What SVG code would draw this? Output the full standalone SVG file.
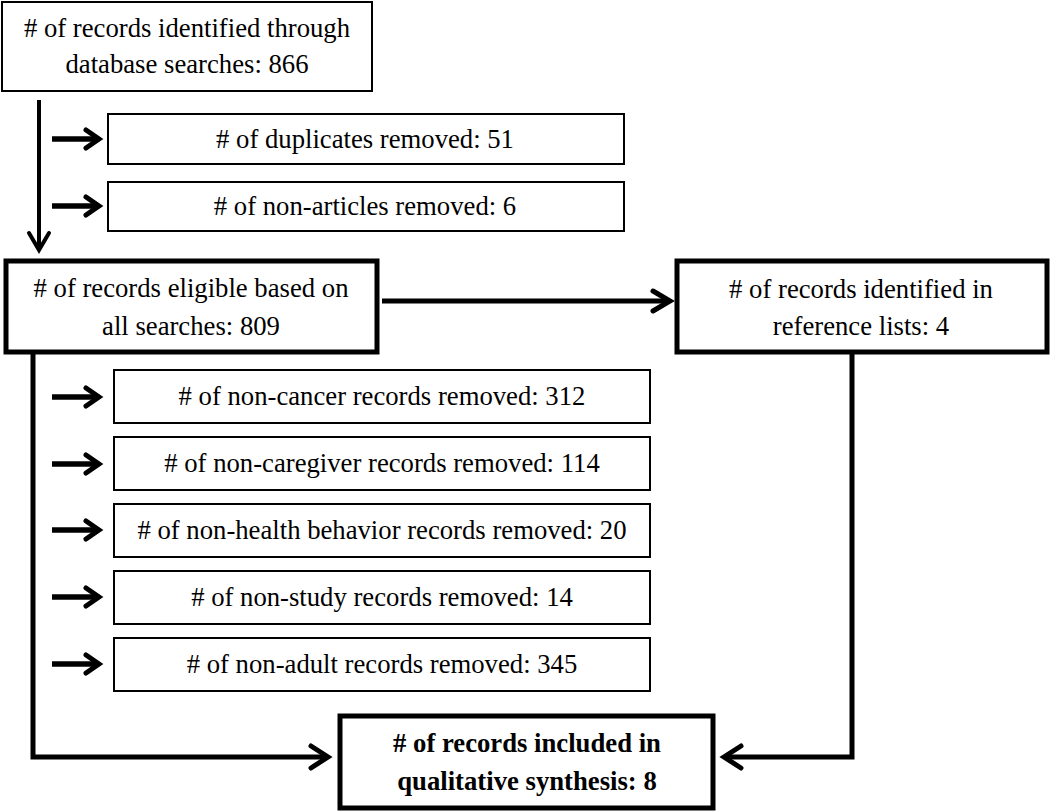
<svg xmlns="http://www.w3.org/2000/svg" width="1050" height="811" viewBox="0 0 1050 811">
<defs>
<style>
.thin{fill:#fff;stroke:#000;stroke-width:2}
.thick{fill:#fff;stroke:#000;stroke-width:5}
.t{font-family:'Liberation Serif',serif;font-size:26.7px;fill:#000;text-anchor:middle}
.b{font-weight:bold}
.ln{fill:none;stroke:#000;stroke-width:5}
.sa{fill:none;stroke:#000;stroke-width:5.5}
.hd{fill:none;stroke:#000;stroke-width:5;stroke-linecap:round;stroke-linejoin:miter}
.v{fill:none;stroke:#000;stroke-width:4}
</style>
</defs>
<rect width="1050" height="811" fill="#fff"/>
<g id="connectors">
<line class="v" x1="39" y1="100" x2="39" y2="250"/>
<polyline class="hd" style="stroke-width:4" points="29,233 39,250 49,233"/>
<line class="sa" x1="52" y1="139" x2="98" y2="139"/>
<polyline class="hd" points="86,130 99,139 86,148"/>
<line class="sa" x1="52" y1="206" x2="98" y2="206"/>
<polyline class="hd" points="86,197 99,206 86,215"/>
<line class="ln" x1="382" y1="301" x2="670" y2="301"/>
<polyline class="hd" points="653,291 670,301 653,311"/>
<line class="sa" x1="52" y1="397" x2="98" y2="397"/>
<polyline class="hd" points="86,388 99,397 86,406"/>
<line class="sa" x1="52" y1="464" x2="98" y2="464"/>
<polyline class="hd" points="86,455 99,464 86,473"/>
<line class="sa" x1="52" y1="530" x2="98" y2="530"/>
<polyline class="hd" points="86,521 99,530 86,539"/>
<line class="sa" x1="52" y1="597" x2="98" y2="597"/>
<polyline class="hd" points="86,588 99,597 86,606"/>
<line class="sa" x1="52" y1="664" x2="98" y2="664"/>
<polyline class="hd" points="86,655 99,664 86,673"/>
<polyline class="ln" points="33,352 33,757 328,757"/>
<polyline class="hd" points="311,746 328,757 311,768"/>
<polyline class="ln" points="852,352 852,757 724,757"/>
<polyline class="hd" points="741,746 724,757 741,768"/>
</g>
<g id="n1">
<rect class="thin" x="2" y="2" width="370" height="89"/>
<text class="t" x="187" y="37"># of records identified through</text>
<text class="t" x="187" y="73">database searches: 866</text>
</g>
<g id="n2">
<rect class="thin" x="108" y="114" width="516" height="50"/>
<text class="t" x="365" y="148"># of duplicates removed: 51</text>
</g>
<g id="n3">
<rect class="thin" x="108" y="182" width="516" height="49"/>
<text class="t" x="365" y="215"># of non-articles removed: 6</text>
</g>
<g id="n4">
<rect class="thick" x="6" y="261" width="371" height="91"/>
<text class="t" x="191" y="297"># of records eligible based on</text>
<text class="t" x="191" y="335">all searches: 809</text>
</g>
<g id="n5">
<rect class="thick" x="677" y="261" width="370" height="91"/>
<text class="t" x="861" y="298"># of records identified in</text>
<text class="t" x="861" y="335">reference lists: 4</text>
</g>
<g id="n6">
<rect class="thin" x="114" y="370" width="536" height="53"/>
<text class="t" x="382" y="405"># of non-cancer records removed: 312</text>
</g>
<g id="n7">
<rect class="thin" x="114" y="437" width="536" height="53"/>
<text class="t" x="382" y="472"># of non-caregiver records removed: 114</text>
</g>
<g id="n8">
<rect class="thin" x="114" y="504" width="536" height="53"/>
<text class="t" x="382" y="539"># of non-health behavior records removed: 20</text>
</g>
<g id="n9">
<rect class="thin" x="114" y="571" width="536" height="53"/>
<text class="t" x="382" y="606"># of non-study records removed: 14</text>
</g>
<g id="n10">
<rect class="thin" x="114" y="638" width="536" height="53"/>
<text class="t" x="382" y="673"># of non-adult records removed: 345</text>
</g>
<g id="n11">
<rect class="thick" x="340" y="716" width="373" height="92"/>
<text class="t b" x="527" y="752"># of records included in</text>
<text class="t b" x="527" y="790">qualitative synthesis: 8</text>
</g>
</svg>
